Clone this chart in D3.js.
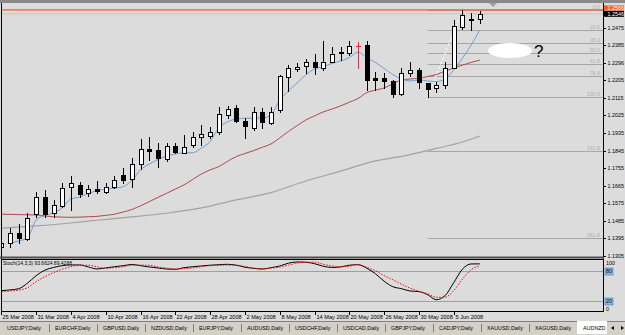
<!DOCTYPE html>
<html><head><meta charset="utf-8">
<script src="https://cdnjs.cloudflare.com/ajax/libs/d3/7.8.5/d3.min.js"></script>
<style>html,body{margin:0;padding:0;background:#dcdcdc;overflow:hidden}svg{display:block}text{font-family:"Liberation Sans",Arial,sans-serif}</style>
</head><body><svg id="c" width="625" height="335"></svg>
<script>
// ---- DATA (AUDNZD Daily) ----
const opens  = [1.1351,1.1371,1.1423,1.1392,1.1520,1.1607,1.1525,1.1561,1.1658,1.1669,1.1628,1.1648,1.1633,1.1658,1.1720,1.1699,1.1776,1.1853,1.1848,1.1802,1.1869,1.1833,1.1874,1.1915,1.1920,1.1940,1.2028,1.2063,1.1997,1.1961,1.2043,1.1987,1.2053,1.2222,1.2263,1.2279,1.2299,1.2268,1.2299,1.2350,1.2345,1.2381,1.2386,1.2217,1.2217,1.2202,1.2135,1.2243,1.2258,1.2192,1.2166,1.2181,1.2268,1.2479,1.2520,1.2520];
const highs  = [1.1392,1.1448,1.1469,1.1525,1.1633,1.1643,1.1592,1.1679,1.1715,1.1684,1.1669,1.1689,1.1679,1.1715,1.1756,1.1807,1.1904,1.1915,1.1884,1.1884,1.1884,1.1925,1.1940,1.1976,1.1966,1.2069,1.2074,1.2079,1.2012,1.2069,1.2063,1.2069,1.2233,1.2284,1.2294,1.2315,1.2340,1.2407,1.2376,1.2376,1.2407,1.2402,1.2407,1.2248,1.2243,1.2207,1.2268,1.2299,1.2268,1.2192,1.2197,1.2299,1.2514,1.2568,1.2550,1.2561];
const lows   = [1.1336,1.1351,1.1371,1.1387,1.1505,1.1505,1.1505,1.1556,1.1541,1.1607,1.1612,1.1628,1.1628,1.1653,1.1679,1.1658,1.1751,1.1797,1.1761,1.1792,1.1833,1.1833,1.1863,1.1874,1.1910,1.1930,1.2012,1.1992,1.1910,1.1951,1.1961,1.1981,1.2043,1.2151,1.2253,1.2243,1.2238,1.2258,1.2299,1.2309,1.2335,1.2268,1.2156,1.2156,1.2166,1.2120,1.2130,1.2227,1.2166,1.2120,1.2145,1.2166,1.2268,1.2468,1.2463,1.2499];
const closes = [1.1371,1.1423,1.1397,1.1500,1.1607,1.1520,1.1566,1.1653,1.1679,1.1623,1.1648,1.1638,1.1658,1.1694,1.1694,1.1776,1.1853,1.1843,1.1807,1.1869,1.1838,1.1863,1.1915,1.1930,1.1940,1.2033,1.2058,1.1997,1.1971,1.2043,1.1992,1.2043,1.2227,1.2268,1.2274,1.2299,1.2274,1.2299,1.2340,1.2345,1.2381,1.2381,1.2207,1.2207,1.2202,1.2135,1.2243,1.2258,1.2197,1.2161,1.2181,1.2268,1.2484,1.2540,1.2514,1.2546];
const redDoji = [41];

const maFast = [null,1.1370,1.1382,1.1397,1.1489,1.1512,1.1525,1.1551,1.1597,1.1607,1.1625,1.1640,1.1647,1.1652,1.1660,1.1692,1.1746,1.1776,1.1799,1.1817,1.1828,1.1833,1.1834,1.1858,1.1891,1.1961,1.1992,1.2007,1.2011,1.2011,1.2012,1.2028,1.2104,1.2151,1.2192,1.2233,1.2263,1.2275,1.2292,1.2304,1.2322,1.2350,1.2322,1.2297,1.2266,1.2235,1.2212,1.2202,1.2207,1.2202,1.2199,1.2212,1.2258,1.2318,1.2386,1.2463];
const maMid  = [1.1519,1.1518,1.1517,1.1516,1.1515,1.1510,1.1506,1.1504,1.1503,1.1504,1.1506,1.1508,1.1513,1.1519,1.1530,1.1543,1.1562,1.1583,1.1605,1.1626,1.1648,1.1669,1.1697,1.1725,1.1746,1.1763,1.1790,1.1814,1.1830,1.1845,1.1862,1.1879,1.1910,1.1943,1.1973,1.2002,1.2023,1.2043,1.2058,1.2074,1.2093,1.2112,1.2142,1.2155,1.2166,1.2187,1.2207,1.2212,1.2216,1.2225,1.2235,1.2252,1.2268,1.2283,1.2297,1.2309];
const maSlowIdx = [0,4,8,11,15,19,23,27,31,35,39,43,46,50,53,55];
const maSlowVal = [1.1447,1.1459,1.1474,1.1488,1.1505,1.1524,1.1551,1.1592,1.1630,1.1689,1.1740,1.1792,1.1815,1.1856,1.1889,1.1920];

const stochMain = [40,41.5,44,55,70,81,86.5,90,91.5,91.5,87.5,83.5,85.5,88,90,92.5,90,87.5,85.5,83.4,82.8,86,88,89.5,91,92,92.8,91,87,84.8,83.4,86,89.4,95,97.5,97,94,89,86.5,87.5,91,92,85,74,59,48,44,39.4,38.2,32,22,30,56,83,93.5,93.66];
const stochSignal = [38,39.5,41,46,58,68,76,83,88,91,91,88,85,86,88,91,91.4,91,87.5,85,83.4,84,85.5,88,90,90.8,91.3,91,88.5,85,83.4,85.5,87,91,95,96.8,97,93,89.5,88,89,92.5,87,80,70,62,53,45,39,34,27,27,40,63,82,89.43];

const dateLabels = ["25 Mar 2008","31 Mar 2008","4 Apr 2008","10 Apr 2008","16 Apr 2008","22 Apr 2008","28 Apr 2008","2 May 2008","8 May 2008","14 May 2008","20 May 2008","26 May 2008","30 May 2008","5 Jun 2008"];
const priceTicks = [1.2475,1.2385,1.2296,1.2205,1.2115,1.2025,1.1935,1.1845,1.1755,1.1665,1.1575,1.1485,1.1395,1.1305];
const fibLevels = [0,23.6,38.2,50.0,61.8,76.4,100.0,161.8,261.8];
const fibHigh = 1.2566, fibLow = 1.2120, fibLowIdx = 49, fibHighIdx = 53;
const hLinePrice = 1.2566, bidPrice = 1.2546;
const tabs = ["USDJPY,Daily","EURCHF,Daily","GBPUSD,Daily","NZDUSD,Daily","EURJPY,Daily","AUDUSD,Daily","USDCHF,Daily","USDCAD,Daily","GBPJPY,Daily","CADJPY,Daily","XAUUSD,Daily","XAGUSD,Daily"];
const activeTab = "AUDNZD";
const stochTitle = "Stoch(14,3,3) 93.6624 89.4288";

// ---- LAYOUT ----
const svg = d3.select("#c");
const R = 603; // right axis x
const x = d3.scaleLinear().domain([0,55]).range([1.3,479.8]);
const y = d3.scaleLinear().domain([1.1305,1.2475]).range([255.95,27.7]);
const ys = d3.scaleLinear().domain([0,100]).range([310.7,260.7]);
const px = v => Math.round(v);

svg.append("rect").attr("width",625).attr("height",335).attr("fill","#dcdcdc");
svg.append("rect").attr("width",625).attr("height",3).attr("fill","#8a8a8a");

const defs = svg.append("defs");
defs.append("clipPath").attr("id","mainClip").append("rect").attr("x",2).attr("y",3).attr("width",R-2).attr("height",254);
defs.append("clipPath").attr("id","stClip").append("rect").attr("x",2).attr("y",260).attr("width",R-2).attr("height",51);

const main = svg.append("g").attr("clip-path","url(#mainClip)");

// horizontal line + bid line
main.append("line").attr("x1",0).attr("x2",R).attr("y1",y(bidPrice)).attr("y2",y(bidPrice)).attr("stroke","#c4c4c4").attr("stroke-width",1);
// Fibonacci levels
const fibY = l => y(fibHigh - (fibHigh-fibLow)*l/100);
const xf0 = x(fibLowIdx);
fibLevels.forEach(l=>{
  const yy = Math.round(fibY(l))+0.5;
  main.append("line").attr("x1",xf0).attr("x2",R).attr("y1",yy).attr("y2",yy).attr("stroke","#a6a6a6").attr("stroke-width",1);
  main.append("text").attr("x",600).attr("y",yy-1.5).attr("text-anchor","end").attr("font-size",5.2).attr("fill","#b0b0b0").text(l.toFixed(1));
});
main.append("line").attr("x1",0).attr("x2",R).attr("y1",y(hLinePrice)).attr("y2",y(hLinePrice)).attr("stroke","#ff5a1e").attr("stroke-width",1.2);
main.append("line").attr("x1",x(fibLowIdx)).attr("y1",y(fibLow)).attr("x2",x(fibHighIdx)).attr("y2",y(fibHigh))
  .attr("stroke","#ffffff").attr("stroke-width",1).attr("stroke-dasharray","3,2");

// moving averages
const lineGen = d3.line().defined(d=>d[1]!=null).x(d=>x(d[0])).y(d=>y(d[1])).curve(d3.curveMonotoneX);
main.append("path").attr("d",lineGen(maSlowIdx.map((d,i)=>[d,maSlowVal[i]]))).attr("fill","none").attr("stroke","#a2a2a2").attr("stroke-width",1.2);
main.append("path").attr("d",lineGen(maMid.map((v,i)=>[i,v]))).attr("fill","none").attr("stroke","#b04848").attr("stroke-width",1);
main.append("path").attr("d",lineGen(maFast.map((v,i)=>[i,v]))).attr("fill","none").attr("stroke","#6f9fd0").attr("stroke-width",1);

// candles
opens.forEach((o,i)=>{
  const c = closes[i], cx = px(x(i));
  const red = redDoji.includes(i);
  const col = red ? "#ff2020" : "#000";
  main.append("line").attr("x1",cx+0.5).attr("x2",cx+0.5).attr("y1",Math.round(y(highs[i]))).attr("y2",Math.round(y(lows[i]))+1).attr("stroke",col).attr("stroke-width",1);
  const t = Math.round(y(Math.max(o,c))), b = Math.round(y(Math.min(o,c)));
  if (red || b - t < 1) {
    main.append("line").attr("x1",cx-2).attr("x2",cx+3).attr("y1",t+0.5).attr("y2",t+0.5).attr("stroke",col);
  } else {
    main.append("rect").attr("x",cx-1.5).attr("y",t+0.5).attr("width",4).attr("height",Math.max(1,b-t))
      .attr("fill", c>=o ? "#fff" : "#000").attr("stroke","#000").attr("stroke-width",1);
  }
});

// annotation ellipse + ?
main.append("ellipse").attr("cx",510).attr("cy",50.5).attr("rx",22).attr("ry",7.5).attr("fill","#ffffff");
main.append("text").attr("x",534).attr("y",57).attr("font-size",17).attr("fill","#000").text("?");

// chart shift marker
svg.append("path").attr("d","M489,3 L497,3 L493,7 Z").attr("fill","#a0a0a0");

// frames
svg.append("line").attr("x1",1.5).attr("x2",1.5).attr("y1",3).attr("y2",312).attr("stroke","#000");
svg.append("line").attr("x1",R+0.5).attr("x2",R+0.5).attr("y1",3).attr("y2",312).attr("stroke","#000");
svg.append("rect").attr("x",0).attr("y",256.5).attr("width",R+1).attr("height",2).attr("fill","#505050");
svg.append("line").attr("x1",1).attr("x2",R+1).attr("y1",259.5).attr("y2",259.5).attr("stroke","#000");
svg.append("line").attr("x1",1).attr("x2",R+1).attr("y1",311.5).attr("y2",311.5).attr("stroke","#000");

// price axis
const ax = svg.append("g");
priceTicks.forEach(p=>{
  const yy = Math.round(y(p))+0.5;
  ax.append("line").attr("x1",R).attr("x2",R+3).attr("y1",yy).attr("y2",yy).attr("stroke","#000");
  ax.append("text").attr("x",R+4.5).attr("y",yy).attr("dy","0.35em").attr("font-size",5.4).attr("fill","#000").text(p.toFixed(4));
});
ax.append("rect").attr("x",R+1).attr("y",y(hLinePrice)-4.5).attr("width",20).attr("height",5).attr("fill","#ff5a1e");
ax.append("text").attr("x",R+4.5).attr("y",y(hLinePrice)-2).attr("dy","0.35em").attr("font-size",5.4).attr("fill","#fff").text(hLinePrice.toFixed(4));
ax.append("rect").attr("x",R+1).attr("y",y(bidPrice)-3).attr("width",20).attr("height",6).attr("fill","#000");
ax.append("text").attr("x",R+4.5).attr("y",y(bidPrice)).attr("dy","0.35em").attr("font-size",5.4).attr("fill","#fff").text(bidPrice.toFixed(4));

// stochastic panel
const st = svg.append("g").attr("clip-path","url(#stClip)");
[80,20].forEach(l=>{
  st.append("line").attr("x1",0).attr("x2",R).attr("y1",Math.round(ys(l))+0.5).attr("y2",Math.round(ys(l))+0.5).attr("stroke","#7ea6d0").attr("stroke-width",1);
});
const sl = d3.line().x((d,i)=>x(i)).y(d=>ys(d)).curve(d3.curveMonotoneX);
st.append("path").attr("d",sl(stochMain)).attr("fill","none").attr("stroke","#000").attr("stroke-width",1);
st.append("path").attr("d",sl(stochSignal)).attr("fill","none").attr("stroke","#ff0000").attr("stroke-width",1).attr("stroke-dasharray","1.5,1.5");
svg.append("text").attr("x",3).attr("y",265).attr("font-size",5).attr("fill","#000").text(stochTitle);
// stoch axis
[[100,null],[80,"#8fb8e0"],[20,"#8fb8e0"],[0,null]].forEach(([v,bg])=>{
  const yy = Math.round(ys(v))+0.5;
  if (bg) svg.append("rect").attr("x",R+2).attr("y",yy-3.5).attr("width",8).attr("height",7).attr("fill",bg).attr("stroke","#3a78c0").attr("stroke-width",0.6);
  svg.append("text").attr("x",R+3).attr("y",yy + (v===100?2:v===0?-2:0)).attr("dy","0.35em").attr("font-size",5.4).attr("fill","#000").text(v);
});

// date axis
dateLabels.forEach((d,k)=>{
  const xx = px(x(k*4));
  svg.append("line").attr("x1",xx+0.5).attr("x2",xx+0.5).attr("y1",312).attr("y2",315).attr("stroke","#000");
  svg.append("text").attr("x",xx+1.5).attr("y",319).attr("font-size",5.6).attr("fill","#000").text(d);
});

// tab bar
const tb = svg.append("g");
tb.append("rect").attr("x",0).attr("y",321).attr("width",625).attr("height",14).attr("fill","#d4d0c8");
tb.append("line").attr("x1",0).attr("x2",625).attr("y1",321.5).attr("y2",321.5).attr("stroke","#808080");
tabs.forEach((t,k)=>{
  const x0 = 2 + k*48;
  tb.append("text").attr("x",x0+5).attr("y",330).attr("font-size",5.4).attr("fill","#000").text(t);
  tb.append("line").attr("x1",x0+47.5).attr("x2",x0+47.5).attr("y1",324).attr("y2",332).attr("stroke","#808080");
});
tb.append("rect").attr("x",577).attr("y",321).attr("width",30).attr("height",13).attr("fill","#fff");
tb.append("text").attr("x",583).attr("y",330).attr("font-size",5.4).attr("fill","#000").text(activeTab);
tb.append("path").attr("d","M614,326 L614,330 L611,328 Z").attr("fill","#000");
tb.append("path").attr("d","M621,326 L621,330 L624,328 Z").attr("fill","#000");
</script></body></html>
